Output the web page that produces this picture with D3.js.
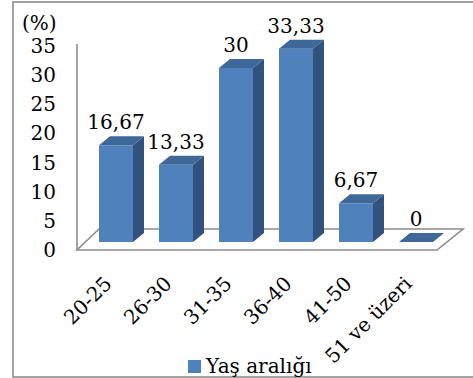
<!DOCTYPE html>
<html>
<head>
<meta charset="utf-8">
<script src="https://cdn.jsdelivr.net/npm/d3@7"></script>
<style>
  html, body { margin: 0; padding: 0; background: #fff; }
  svg { display: block; }
  text { font-family: "DejaVu Serif", serif; fill: #000; }
</style>
</head>
<body>
<svg id="chart" width="473" height="378"></svg>
<script>
// Age-group distribution (%)
const categories = ["20-25", "26-30", "31-35", "36-40", "41-50", "51 ve üzeri"];
const values = [16.67, 13.33, 30, 33.33, 6.67, 0];
const valueLabels = ["16,67", "13,33", "30", "33,33", "6,67", "0"];
const tickValues = [0, 5, 10, 15, 20, 25, 30, 35];
const seriesName = "Yaş aralığı";
const unitLabel = "(%)";

const svg = d3.select("#chart");
const W = 473, H = 378;
const fontSize = 20;

const colFront = "#4f81bd", colTop = "#3e6898", colSide = "#30527c";
const gridGray = "#8c8c8c";

// Outer frame
svg.append("rect")
  .attr("x", 13).attr("y", 2).attr("width", W + 10).attr("height", 375)
  .attr("fill", "#fff").attr("stroke", gridGray).attr("stroke-width", 1.6);

// Scales: axis labels sit on the front plane, columns on the middle depth plane
const yAxisScale = d3.scaleLinear().domain([0, 35]).range([250, 46]);
const yBar = d3.scaleLinear().domain([0, 35]).range([242, 242 - 35 * 5.8]);
const x = d3.scaleBand().domain(categories).range([86, 446])
  .paddingInner(26 / 60).paddingOuter(13 / 60);

const depthX = 11, depthY = -9;

// Floor (parallelogram)
const floor = svg.append("g").attr("stroke", gridGray).attr("stroke-width", 1.6).attr("fill", "none");
const fY = yAxisScale(0), bY = 229;
floor.append("path")
  .attr("d", `M77,${fY} L437,${fY} L463,${bY} L99,${bY} Z`)
  .attr("stroke-linejoin", "miter");

// Vertical axis line
svg.append("line")
  .attr("x1", 77).attr("x2", 77)
  .attr("y1", 44).attr("y2", fY)
  .attr("stroke", gridGray).attr("stroke-width", 1.6);

// Tick labels
svg.append("g").selectAll("text")
  .data(tickValues).join("text")
  .attr("x", 56).attr("y", d => yAxisScale(d))
  .attr("dy", "0.35em")
  .attr("text-anchor", "end")
  .attr("font-size", fontSize)
  .text(d => d);

svg.append("text")
  .attr("x", 22).attr("y", 30)
  .attr("font-size", fontSize)
  .text(unitLabel);

// 3D columns
const bw = x.bandwidth();
const bars = svg.append("g").selectAll("g")
  .data(categories.map((c, i) => ({ c, v: values[i], lab: valueLabels[i] })))
  .join("g");

bars.each(function (d) {
  const g = d3.select(this);
  const x0 = x(d.c), x1 = x0 + bw;
  const y0 = yBar(0), yt = yBar(d.v);
  if (d.v > 0) {
    // side face
    g.append("path")
      .attr("d", `M${x1},${yt} L${x1 + depthX},${yt + depthY} L${x1 + depthX},${y0 + depthY} L${x1},${y0} Z`)
      .attr("fill", colSide);
    // front face
    g.append("rect")
      .attr("x", x0).attr("y", yt).attr("width", bw).attr("height", y0 - yt)
      .attr("fill", colFront);
  }
  // top face
  g.append("path")
    .attr("d", `M${x0},${yt} L${x1},${yt} L${x1 + depthX},${yt + depthY} L${x0 + depthX},${yt + depthY} Z`)
    .attr("fill", colTop);
  // value label
  g.append("text")
    .attr("x", x0 + bw / 2).attr("y", yt - 16)
    .attr("text-anchor", "middle")
    .attr("font-size", fontSize)
    .text(d.lab);
});

// Category labels, rotated
svg.append("g").selectAll("text")
  .data(categories).join("text")
  .attr("text-anchor", "end")
  .attr("font-size", fontSize)
  .attr("transform", d => `translate(${x(d) + bw / 2 - 3},285) rotate(-45)`)
  .text(d => d);

// Legend
svg.append("rect")
  .attr("x", 188).attr("y", 360).attr("width", 13).attr("height", 13)
  .attr("fill", colFront);
svg.append("text")
  .attr("x", 206).attr("y", 373)
  .attr("font-size", fontSize)
  .text(seriesName);
</script>
</body>
</html>
